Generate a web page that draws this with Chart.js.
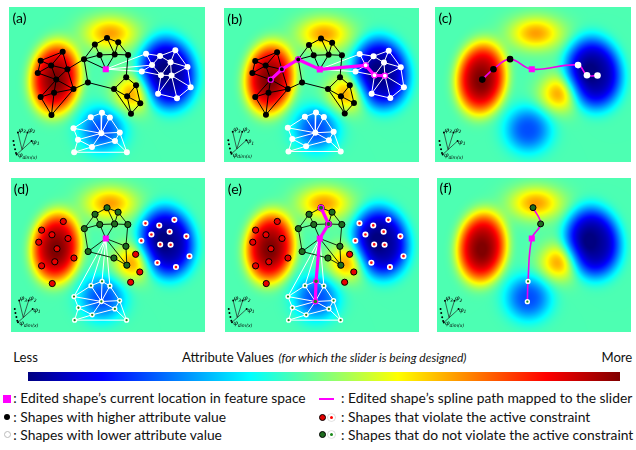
<!DOCTYPE html>
<html><head><meta charset="utf-8">
<script src="https://cdn.jsdelivr.net/npm/chart.js@4.4.1/dist/chart.umd.min.js"></script>
<style>
html,body{margin:0;padding:0;background:#fff;}
body{width:636px;height:450px;position:relative;overflow:hidden;font-family:Lato,"Open Sans",sans-serif;}
canvas.panel{position:absolute;}
.txt{position:absolute;white-space:nowrap;color:#111;}
.mk{position:absolute;box-sizing:border-box;}
</style></head><body>
<canvas class="panel" id="pa" width="205" height="164" style="left:5px;top:3px"></canvas>
<canvas class="panel" id="pb" width="205" height="164" style="left:219px;top:3px"></canvas>
<canvas class="panel" id="pc" width="205" height="164" style="left:431px;top:3px"></canvas>
<canvas class="panel" id="pd" width="205" height="165" style="left:5px;top:172px"></canvas>
<canvas class="panel" id="pe" width="205" height="165" style="left:219px;top:172px"></canvas>
<canvas class="panel" id="pf" width="205" height="165" style="left:431px;top:172px"></canvas>
<div class="mk" style="left:28px;top:372px;width:592px;height:9px;background:linear-gradient(to right,rgb(0,0,128) 0%,rgb(0,0,255) 12.5%,rgb(0,255,255) 37.5%,rgb(255,255,0) 62.5%,rgb(255,0,0) 87.5%,rgb(128,0,0) 100%)"></div>
<!-- legend markers -->
<div class="mk" style="left:3px;top:395px;width:8px;height:8px;background:#ff00ff"></div>
<div class="mk" style="left:4px;top:414px;width:6px;height:6px;border-radius:50%;background:#000"></div>
<div class="mk" style="left:4px;top:431px;width:7px;height:7px;border-radius:50%;background:#fff;border:1px solid #bbb"></div>
<div class="mk" style="left:319px;top:398px;width:15px;height:2px;background:#ff00ff"></div>
<div class="mk" style="left:319px;top:413.5px;width:7px;height:7px;border-radius:50%;background:#e00000;border:1px solid #000"></div>
<div class="mk" style="left:327.5px;top:413.5px;width:7px;height:7px;border-radius:50%;background:#f00;border:2px solid #fff;box-shadow:0 0 0 0.6px #ccc"></div>
<div class="mk" style="left:319px;top:431px;width:7px;height:7px;border-radius:50%;background:#1e6b1e;border:1px solid #000"></div>
<div class="mk" style="left:327.5px;top:431px;width:7px;height:7px;border-radius:50%;background:#1a8a1a;border:2px solid #fff;box-shadow:0 0 0 0.6px #ccc"></div>
<script>
// ---------- DATA ----------
const panelLabels = ['(a)', '(b)', '(c)', '(d)', '(e)', '(f)'];

// attribute field (blobs, panel pixel units, y down)
const fieldBase = 0.45;
const blobX   = [48,   48,   165,   161,   97,    105,   129];
const blobY   = [75,   77,   69.5,  69,    129,   27.5,  91];
const blobSX  = [18.5, 7,    21,    7,     17,    19,    14];
const blobSY  = [27,   10,   27,    9,     17,    12,    13.5];
const blobAmp = [0.50, 0.06, -0.42, -0.05, -0.25, 0.27,  0.26];
const blobPow = [2,    1,    2,     1,     1.3,   1,     1];
const blobRot = [0.1,  0,    -0.15, 0,     0,     0,     -0.4];

// shape nodes (feature-space positions)
const leftCluster = [[55.7,47],[32.7,56.3],[43.7,61.3],[60.7,65.3],[29.7,69.3],[49,76.3],[67,86.3],[32.7,94.7],[46.7,90.3],[44,113.7]];
const topCluster = [[89.3,39.3],[102,32.3],[113.7,37],[94.3,50.3],[110,49.7],[124,50.3],[78,54.7],[82,79.3]];
const midCluster = [[122,73.7],[132.3,82.3],[109.3,86.3],[123,94],[136.7,101.3],[127,112.3]];
const rightCluster = [[142.7,49],[157.3,51.3],[173.3,45.3],[149,61],[168.3,58],[186,63],[138.3,67.7],[158.3,71.7],[169.3,72],[189.3,84.3],[155.3,91.3],[175,96]];
const bottomCluster = [[85,116],[96.7,111.3],[105,116.3],[67,127.7],[96,133],[115.3,132],[71.7,139.7],[110.3,141],[86.3,147.3],[67.7,153],[122.7,153]];
const editedShape = [100.7, 65.3];

// graph edges
const edgesHigher = ['L1-L0','L0-L3','L0-L2','L1-L2','L1-L4','L2-L3','L2-L4','L2-L5','L4-L5','L3-L5','L3-L6','L5-L6','L5-L7','L5-L8','L7-L8','L8-L6','L7-L9','L8-L9','L6-L9',
  'L3-C6','L6-C7','C6-C7','C6-C0','C6-C3','C6-M','C0-C1','C1-C2','C0-C3','C1-C4','C2-C4','C2-C5','C3-C4','C4-C5','C3-M','C4-M','C7-R2','C5-R0',
  'R0-R1','R0-R2','R2-R3','R1-R3','R3-R4','R1-R4','R2-R5','R3-R5','R4-R5'];
const edgesLower = ['M-W0','M-W3','M-W6',
  'W0-W1','W1-W2','W0-W3','W1-W3','W1-W4','W2-W4','W2-W5','W3-W6','W3-W7','W4-W7','W4-W8','W4-W5','W5-W8','W5-W9','W7-W8','W6-W7','W7-W10','W8-W10','W8-W11','W10-W11','W9-W11','W8-W9',
  'B0-B1','B1-B2','B0-B3','B0-B4','B1-B4','B2-B4','B2-B5','B3-B4','B3-B6','B4-B5','B4-B6','B4-B7','B4-B8','B5-B7','B6-B8','B6-B9','B8-B9','B7-B8','B7-B10','B9-B10','B5-B10'];
const edgesValid = ['C6-C0','C0-C1','C1-C2','C0-C3','C1-C4','C2-C4','C2-C5','C3-C4','C4-C5','C6-C3','C3-M','C4-M','C6-C7','C7-M','M-R0','M-R3','C5-R0','R0-R3','R2-R3','C7-R2'];
const edgesValidLower = ['M-B3','M-B0','M-B1','M-B2',
  'B0-B1','B1-B2','B0-B3','B0-B4','B1-B4','B2-B4','B2-B5','B3-B4','B3-B6','B4-B5','B4-B6','B4-B7','B4-B8','B5-B7','B6-B8','B6-B9','B8-B9','B7-B8','B7-B10','B9-B10','B5-B10'];

// slider paths
const pathTop = ['L5','L3','C6','M','W3','W7','W8'];
const pathBottom = ['C1','C4','M','B1','B4'];

// node groups
const higherNodes = [...leftCluster.map((_,i)=>'L'+i), ...topCluster.map((_,i)=>'C'+i), ...midCluster.map((_,i)=>'R'+i)];
const lowerNodes = [...rightCluster.map((_,i)=>'W'+i), ...bottomCluster.map((_,i)=>'B'+i)];
const violatingHigher = [...leftCluster.map((_,i)=>'L'+i), 'R1','R4','R5'];
const violatingLower = rightCluster.map((_,i)=>'W'+i);
const validHigher = [...topCluster.map((_,i)=>'C'+i), 'R0','R2','R3'];
const validLower = bottomCluster.map((_,i)=>'B'+i);

// feature-axis icon
const iconRoot = [13.3, 150.3];
const iconTips = [[9,132],[19,132],[23.3,141],[7.7,155.3]];
const iconDots = [[4.3,141],[5,145.3],[6,149.7],[7,153.7],[9,132],[19,132],[23.3,141],[7.7,155.3]];
const iconLabelSub = ['3','2','1','dim(x)'];
const iconLabelPos = [[9.5,131.5],[19.5,131.5],[23.8,144],[9,158.5]];

// ---------- helpers ----------
const clusters = {L:leftCluster, C:topCluster, R:midCluster, W:rightCluster, B:bottomCluster};
function pt(id){
  if (id === 'M') return {x: editedShape[0], y: editedShape[1]};
  const p = clusters[id[0]][+id.slice(1)];
  return {x: p[0], y: p[1]};
}
function edgeData(list){
  const out = [];
  list.forEach(e => { const [a,b] = e.split('-'); out.push(pt(a), pt(b), {x:null, y:null}); });
  return out;
}
function jet(t){
  t = Math.max(0, Math.min(1, t));
  const f = v => Math.max(0, Math.min(1, v)) * 255;
  return [f(1.5-Math.abs(4*t-3)), f(1.5-Math.abs(4*t-2)), f(1.5-Math.abs(4*t-1))];
}
const fieldPlugin = {
  id: 'field',
  beforeDatasetsDraw(chart){
    const {ctx, chartArea: a, scales: {x, y}} = chart;
    const w = Math.round(a.right - a.left), h = Math.round(a.bottom - a.top);
    const off = document.createElement('canvas'); off.width = w; off.height = h;
    const octx = off.getContext('2d'); const img = octx.createImageData(w, h);
    for (let j = 0; j < h; j++){
      const vy = y.getValueForPixel(a.top + j + 0.5);
      for (let i = 0; i < w; i++){
        const vx = x.getValueForPixel(a.left + i + 0.5);
        let t = fieldBase;
        for (let k = 0; k < blobX.length; k++){
          const dx = vx - blobX[k], dy = vy - blobY[k];
          const c = Math.cos(blobRot[k]), s = Math.sin(blobRot[k]);
          const u = c*dx + s*dy, v = -s*dx + c*dy;
          const q = 0.5*(u*u/(blobSX[k]*blobSX[k]) + v*v/(blobSY[k]*blobSY[k]));
          t += blobAmp[k]*Math.exp(-Math.pow(q, blobPow[k]));
        }
        const col = jet(t), idx = (j*w + i)*4;
        img.data[idx] = col[0]; img.data[idx+1] = col[1]; img.data[idx+2] = col[2]; img.data[idx+3] = 255;
      }
    }
    octx.putImageData(img, 0, 0);
    ctx.drawImage(off, a.left, a.top);
  }
};
function textPlugin(label){
  return {
    id: 'texts',
    afterDraw(chart){
      const {ctx, scales: {x, y}} = chart;
      ctx.save();
      ctx.fillStyle = '#000'; ctx.textBaseline = 'alphabetic';
      ctx.font = '14px Lato';
      ctx.fillText(label, x.getPixelForValue(3.3), y.getPixelForValue(17));
      iconLabelPos.forEach((p, i) => {
        const px = x.getPixelForValue(p[0]), py = y.getPixelForValue(p[1]);
        ctx.font = 'italic 6.5px "DejaVu Serif"';
        ctx.fillText('φ', px, py);
        const wphi = ctx.measureText('φ').width;
        ctx.font = 'italic 4.5px "DejaVu Sans"';
        ctx.fillText(iconLabelSub[i], px + wphi, py + 1.5);
      });
      ctx.restore();
    }
  };
}
function edges(list, color, width, order){
  return {data: edgeData(list), showLine: true, borderColor: color, borderWidth: width, pointRadius: 0, order: order};
}
function nodes(ids, fill, border, bw, r, order, style){
  return {data: ids.map(pt), showLine: false, pointRadius: r, pointBackgroundColor: fill,
          pointBorderColor: border, pointBorderWidth: bw, pointStyle: style || 'circle', order: order};
}
function pathEdges(path){ return path.slice(0, -1).map((p, i) => p + '-' + path[i+1]); }
function iconSets(){
  const segs = [];
  iconTips.forEach(t => { segs.push({x: iconRoot[0], y: iconRoot[1]}, {x: t[0], y: t[1]}, {x: null, y: null}); });
  return [
    {data: segs, showLine: true, borderColor: '#222', borderWidth: 0.7, pointRadius: 0, order: 60},
    {data: iconDots.map(p => ({x: p[0], y: p[1]})), showLine: false, pointRadius: 1, pointBackgroundColor: '#000', pointBorderWidth: 0, order: 59}
  ];
}
function square(){ return nodes(['M'], '#ff00ff', '#ff00ff', 0, 4.3, 5, 'rect'); }

function datasetsFor(k){
  const d = [];
  if (k === 0 || k === 1){
    d.push(edges(edgesHigher, '#000', 1, 50), edges(edgesLower, '#fff', 1, 51));
    d.push(nodes(higherNodes, '#000', '#000', 0, 3, 40), nodes(lowerNodes, '#fff', '#fff', 0, 3, 41));
    if (k === 1){
      d.push(edges(pathEdges(pathTop), '#ff00ff', 3.2, 30));
      d.push(nodes(pathTop.slice(0,3), '#000', '#ff00ff', 1.2, 2.6, 20));
      d.push(nodes(pathTop.slice(4), '#fff', '#ff00ff', 1.2, 2.6, 20));
    }
  } else if (k === 3 || k === 4){
    d.push(edges(edgesValid, '#0f2a0f', 1, 50), edges(edgesValidLower, '#fff', 1, 51));
    d.push(nodes(violatingHigher, '#e60000', '#000', 1, 3.1, 40));
    d.push(nodes(violatingLower, '#ff1010', '#fff', 1.7, 2.2, 40));
    d.push(nodes(validHigher, '#1e6b1e', '#000', 1, 3.1, 40));
    d.push(nodes(validLower, '#1a8a1a', '#fff', 1.5, 1.9, 40));
    if (k === 4){
      d.push(edges(pathEdges(pathBottom), '#ff00ff', 3.2, 30));
      d.push(nodes(pathBottom.slice(0,2), '#1e6b1e', '#ff00ff', 1.2, 2.6, 20));
      d.push(nodes(pathBottom.slice(3), '#1a8a1a', '#ff00ff', 1.2, 2.4, 20));
    }
  } else if (k === 2){
    d.push({data: pathTop.map(pt), showLine: true, tension: 0.4, borderColor: '#ee00ee', borderWidth: 1.6, pointRadius: 0, order: 30});
    d.push(nodes(pathTop.slice(0,3), '#000', '#000', 0, 3.3, 20));
    d.push(nodes(pathTop.slice(4), '#fff', '#fff', 0, 3.3, 20));
  } else if (k === 5){
    d.push({data: pathBottom.map(pt), showLine: true, tension: 0.4, borderColor: '#ee00ee', borderWidth: 1.6, pointRadius: 0, order: 30});
    d.push(nodes(pathBottom.slice(0,2), '#1e6b1e', '#000', 1, 3, 20));
    d.push(nodes(pathBottom.slice(3), '#1a8a1a', '#fff', 1.5, 1.9, 20));
  }
  d.push(square());
  d.push(...iconSets());
  return d;
}

['pa','pb','pc','pd','pe','pf'].forEach((id, k) => {
  const cv = document.getElementById(id);
  new Chart(cv, {
    type: 'scatter',
    data: {datasets: datasetsFor(k)},
    options: {
      responsive: false, animation: false, events: [],
      layout: {padding: 0},
      plugins: {legend: {display: false}, tooltip: {enabled: false}},
      scales: {
        x: {type: 'linear', min: 0, max: cv.width, display: false},
        y: {type: 'linear', min: 0, max: cv.height, reverse: true, display: false}
      }
    },
    plugins: [fieldPlugin, textPlugin(panelLabels[k])]
  });
});

// ---------- colour bar title and legend text ----------
const mctx = document.createElement('canvas').getContext('2d');
function fontStr(it, size){ return (it ? 'italic ' : '') + size + 'px Lato'; }
function widthAt(t, it, size){ mctx.font = fontStr(it, size); return mctx.measureText(t).width; }
function placeText(t, x, baseline, size, it){
  mctx.font = fontStr(it, size);
  const m = mctx.measureText(t);
  const asc = m.fontBoundingBoxAscent, desc = m.fontBoundingBoxDescent;
  const el = document.createElement('div');
  el.className = 'txt';
  el.textContent = t;
  el.style.font = fontStr(it, size);
  el.style.lineHeight = (asc + desc) + 'px';
  el.style.left = x + 'px';
  el.style.top = (baseline - asc) + 'px';
  document.body.appendChild(el);
  return m.width;
}
// colour bar title
const barTitle = ['Less', 'Attribute Values', '(for which the slider is being designed)', 'More'];
const titleSize = (14 * 24 / widthAt('Less', false, 14) + 14 * 31.6 / widthAt('More', false, 14)) / 2;
placeText(barTitle[0], 13.3, 362.3, titleSize, false);
placeText(barTitle[3], 632.3 - widthAt('More', false, titleSize), 362.3, titleSize, false);
const w1 = placeText(barTitle[1], 182, 362.3, titleSize, false);
const itX = 182 + w1 + 4;
const itSize = 11 * (467.3 - itX) / widthAt(barTitle[2], true, 11);
placeText(barTitle[2], itX, 362.3, itSize, true);

// legend rows
const legendText = [': Edited shape’s current location in feature space', ': Shapes with higher attribute value', ': Shapes with lower attribute value',
                    ': Edited shape’s spline path mapped to the slider', ': Shapes that violate the active constraint', ': Shapes that do not violate the active constraint'];
const legendX = [13.3, 13.3, 13.3, 341, 341, 341];
const legendBase = [403.3, 421.7, 440, 403.3, 421.7, 440];
const legendSize = (14 * 296.7 / widthAt(legendText[0], false, 14) + 14 * 290 / widthAt(legendText[3], false, 14) + 14 * 290 / widthAt(legendText[5], false, 14)) / 3;
legendText.forEach((t, i) => placeText(t, legendX[i], legendBase[i], legendSize, false));
</script>
</body></html>
